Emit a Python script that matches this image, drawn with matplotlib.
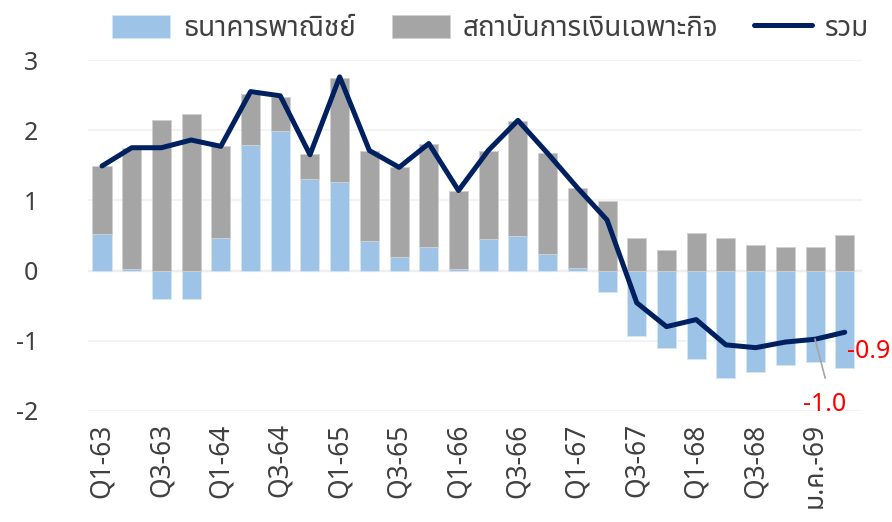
import matplotlib
matplotlib.use("Agg")
import matplotlib.pyplot as plt
import numpy as np

plt.rcParams['font.family'] = ['Noto Sans Thai', 'DejaVu Sans']

# quarters 63-68, then monthly 69
categories = ['Q1-63', 'Q2-63', 'Q3-63', 'Q4-63', 'Q1-64', 'Q2-64', 'Q3-64', 'Q4-64',
              'Q1-65', 'Q2-65', 'Q3-65', 'Q4-65', 'Q1-66', 'Q2-66', 'Q3-66', 'Q4-66',
              'Q1-67', 'Q2-67', 'Q3-67', 'Q4-67', 'Q1-68', 'Q2-68', 'Q3-68', 'Q4-68',
              'ม.ค.-69', 'ก.พ.-69']
commercial = [0.52, 0.02, -0.40, -0.40, 0.47, 1.79, 1.99, 1.30, 1.26, 0.42, 0.19, 0.34, 0.02,
              0.45, 0.49, 0.24, 0.03, -0.30, -0.94, -1.10, -1.26, -1.53, -1.45, -1.34, -1.31, -1.39]
sfi = [0.97, 1.72, 2.14, 2.23, 1.30, 0.73, 0.48, 0.36, 1.48, 1.28, 1.28, 1.46, 1.12,
       1.26, 1.64, 1.43, 1.15, 0.99, 0.47, 0.29, 0.54, 0.46, 0.36, 0.33, 0.34, 0.50]
total = [1.49, 1.75, 1.75, 1.86, 1.77, 2.55, 2.49, 1.65, 2.76, 1.71, 1.47, 1.81, 1.14,
         1.71, 2.14, 1.67, 1.18, 0.72, -0.46, -0.80, -0.70, -1.06, -1.10, -1.02, -0.98, -0.88]

x = np.arange(len(categories))
comm = np.array(commercial)
gray_bottom = np.clip(comm, 0, None)

fig = plt.figure(figsize=(8.92, 5.22), dpi=100)
ax = fig.add_axes([0.0987, 0.213, 0.8673, 0.672])

b1 = ax.bar(x, commercial, width=0.64, color='#9DC3E6', edgecolor='#D6E6F5', linewidth=0.6,
            label='ธนาคารพาณิชย์', zorder=2)
b2 = ax.bar(x, sfi, bottom=gray_bottom, width=0.64, color='#A5A5A5', edgecolor='#D0D0D0',
            linewidth=0.6, label='สถาบันการเงินเฉพาะกิจ', zorder=2)
ln, = ax.plot(x, total, color='#002060', lw=3.6, solid_joinstyle='round',
              solid_capstyle='round', label='รวม', zorder=3)

ax.set_xlim(-0.47, 25.57)
ax.set_ylim(-2, 3)
ax.set_yticks([-2, -1, 0, 1, 2, 3])
ax.set_yticklabels(['-2', '-1', '0', '1', '2', '3'])
ax.set_xticks(x[::2])
ax.set_xticklabels(categories[::2], rotation=90)
ax.tick_params(axis='y', length=0, pad=36, labelsize=18, labelcolor='#404040')
ax.tick_params(axis='x', length=0, pad=9, labelsize=19, labelcolor='#404040')
for lab in ax.get_yticklabels():
    lab.set_horizontalalignment('right')

ax.grid(axis='y', color='#F2F2F2', lw=1.3, zorder=0)
ax.axhline(0, color='#D9D9D9', lw=1.6, zorder=1)
for s in ax.spines.values():
    s.set_visible(False)

# data labels
ax.text(25.08, -1.16, '-0.9', color='#FF0000', fontsize=18, ha='left', va='center')
ax.text(24.33, -1.91, '-1.0', color='#FF0000', fontsize=18, ha='center', va='center')
ax.plot([24.0, 24.34], [-0.98, -1.53], color='#A6A6A6', lw=1.2, zorder=4)

fig.legend([b1, b2, ln], ['ธนาคารพาณิชย์', 'สถาบันการเงินเฉพาะกิจ', 'รวม'],
           loc='upper center', bbox_to_anchor=(0.55, 1.02), ncol=3, frameon=False,
           fontsize=20, handlelength=2.1, handleheight=0.9, handletextpad=0.45,
           columnspacing=1.3, labelcolor='#404040')

fig.savefig('out.png', dpi=100)
